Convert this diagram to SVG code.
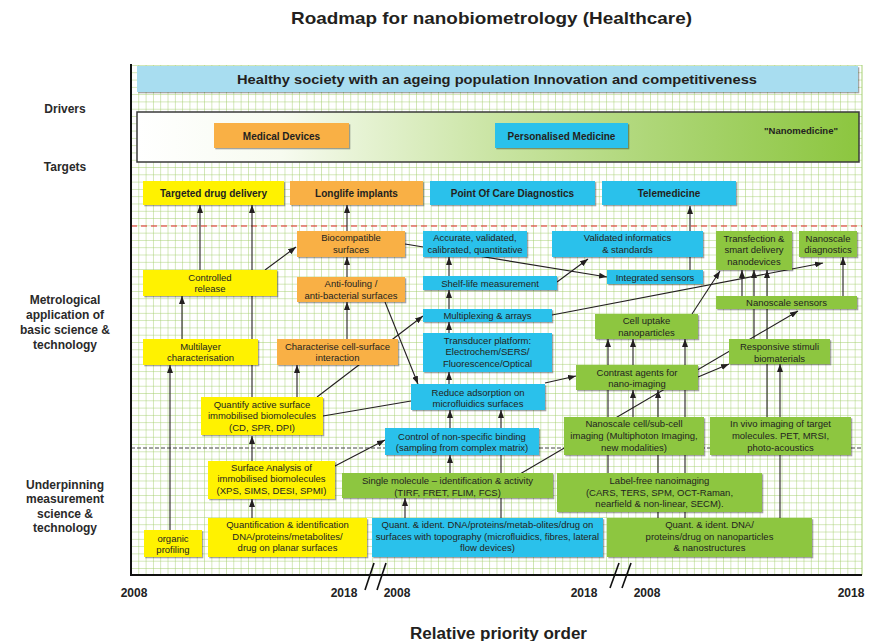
<svg xmlns="http://www.w3.org/2000/svg" width="872" height="641" viewBox="0 0 872 641">
<defs>
<style>
text{font-family:"Liberation Sans",Arial,sans-serif;fill:#231f20;text-anchor:middle}
.n text{font-size:9.5px}
.tg text{font-size:10px;font-weight:bold}
.lab{font-size:12px;font-weight:bold;fill:#2a2a2a}
.yr{font-size:12px;font-weight:bold;fill:#222}
.box{filter:url(#sh)}
.y{fill:#fff200}
.o{fill:#f9b044}
.c{fill:#29c1eb}
.g{fill:#8dc641}
#conn line,#conn path{stroke:#231f20;stroke-width:1.1;fill:none}
#conn .a{marker-end:url(#ah)}
</style>
<marker id="ah" viewBox="0 0 8 6" refX="8" refY="3" markerWidth="8" markerHeight="6" markerUnits="userSpaceOnUse" orient="auto">
<path d="M0,0 L8,3 L0,6 z" fill="#231f20"/>
</marker>
<pattern id="grid" x="131" y="65" width="7.31" height="7.29" patternUnits="userSpaceOnUse">
<path d="M0,0 V7.29 M0,0 H7.31" stroke="#9fcd68" stroke-width="0.9" fill="none"/>
</pattern>
<linearGradient id="drv" x1="0" y1="0" x2="1" y2="0">
<stop offset="0" stop-color="#ffffff"/>
<stop offset="0.2" stop-color="#f7fbf0"/>
<stop offset="0.5" stop-color="#c9e4a2"/>
<stop offset="0.8" stop-color="#a3d166"/>
<stop offset="1" stop-color="#8cc63f"/>
</linearGradient>
<filter id="sh" x="-10%" y="-20%" width="120%" height="150%">
<feDropShadow dx="1.3" dy="1.3" stdDeviation="0.6" flood-color="#000" flood-opacity="0.35"/>
</filter>
</defs>

<rect x="0" y="0" width="872" height="641" fill="#fff"/>
<text x="491.5" y="24" font-size="17" font-weight="bold" textLength="401" lengthAdjust="spacingAndGlyphs" fill="#222">Roadmap for nanobiometrology (Healthcare)</text>

<!-- grid background -->
<rect x="131" y="65" width="731" height="510" fill="url(#grid)"/>
<line x1="862" y1="65" x2="862" y2="575" stroke="#9fcd68" stroke-width="0.9"/>

<!-- row labels -->
<g id="row-labels">
<text class="lab" x="65" y="113">Drivers</text>
<text class="lab" x="65" y="171">Targets</text>
<text class="lab" x="65" y="304">Metrological</text>
<text class="lab" x="65" y="319">application of</text>
<text class="lab" x="65" y="334">basic science &amp;</text>
<text class="lab" x="65" y="349">technology</text>
<text class="lab" x="65" y="489">Underpinning</text>
<text class="lab" x="65" y="503">measurement</text>
<text class="lab" x="65" y="518">science &amp;</text>
<text class="lab" x="65" y="532">technology</text>
</g>

<!-- banner -->
<g id="banner">
<rect x="137" y="66" width="721" height="26" fill="#a8ddf0" filter="url(#sh)"/>
<text x="497" y="84" font-size="13.5" font-weight="bold" textLength="520" lengthAdjust="spacingAndGlyphs" fill="#222">Healthy society with an ageing population Innovation and competitiveness</text>
</g>

<!-- drivers -->
<g id="drivers">
<rect x="137" y="112" width="722" height="50" fill="url(#drv)" stroke="#3a3a3a" stroke-width="1.5"/>
<g id="n-medical-devices" class="tg"><rect class="box o" x="214" y="123" width="135" height="25"/><text x="281.5" y="139.5">Medical Devices</text></g>
<g id="n-personalised-medicine" class="tg"><rect class="box c" x="495" y="123" width="133" height="25"/><text x="561.5" y="139.5">Personalised Medicine</text></g>
<text x="801" y="133.5" font-size="9.5" font-weight="bold">"Nanomedicine"</text>
</g>

<!-- separators -->
<line x1="131" y1="226" x2="862" y2="226" stroke="#e3262b" stroke-width="1.1" stroke-dasharray="6,4"/>
<line x1="131" y1="448" x2="862" y2="448" stroke="#444" stroke-width="1" stroke-dasharray="4,2"/>

<!-- connectors -->
<g id="conn">
<line class="a" x1="200" y1="270" x2="200" y2="205"/>
<line class="a" x1="252" y1="397" x2="252" y2="205"/>
<line class="a" x1="265" y1="270" x2="296" y2="247"/>
<line class="a" x1="347" y1="231" x2="347" y2="205"/>
<line class="a" x1="347" y1="277" x2="347" y2="257"/>
<line class="a" x1="347" y1="339" x2="347" y2="302"/>
<line class="a" x1="182" y1="339" x2="182" y2="296"/>
<line class="a" x1="170" y1="530" x2="170" y2="365"/>
<line class="a" x1="297" y1="397" x2="297" y2="365"/>
<line class="a" x1="385" y1="302" x2="418" y2="384"/>
<line class="a" x1="317" y1="397" x2="423" y2="316"/>
<line x1="323" y1="416" x2="411" y2="401"/>
<line class="a" x1="405" y1="244" x2="607" y2="277"/>
<line class="a" x1="449" y1="276" x2="449" y2="257"/>
<line class="a" x1="449" y1="309" x2="449" y2="290"/>
<line class="a" x1="449" y1="333" x2="449" y2="322"/>
<line class="a" x1="449" y1="384" x2="449" y2="372"/>
<line class="a" x1="557" y1="282" x2="588" y2="259"/>
<line class="a" x1="690" y1="270" x2="690" y2="206"/>
<line class="a" x1="552" y1="315" x2="823" y2="263"/>
<line class="a" x1="692" y1="314" x2="720" y2="271"/>
<line class="a" x1="742" y1="296" x2="742" y2="270"/>
<line class="a" x1="754" y1="339" x2="754" y2="270"/>
<line class="a" x1="767" y1="417" x2="767" y2="270"/>
<line class="a" x1="843" y1="296" x2="843" y2="257"/>
<line class="a" x1="520" y1="474" x2="798" y2="311"/>
<line class="a" x1="698" y1="377" x2="729" y2="364"/>
<line class="a" x1="545" y1="383" x2="576" y2="376"/>
<line class="a" x1="608" y1="473" x2="608" y2="339"/>
<line class="a" x1="633" y1="365" x2="633" y2="339"/>
<line class="a" x1="633" y1="417" x2="633" y2="390"/>
<line class="a" x1="658" y1="518" x2="658" y2="390"/>
<line class="a" x1="685" y1="518" x2="685" y2="339"/>
<line class="a" x1="780" y1="518" x2="780" y2="364"/>
<line class="a" x1="501" y1="518" x2="501" y2="410"/>
<line class="a" x1="450" y1="428" x2="450" y2="410"/>
<line class="a" x1="450" y1="473" x2="450" y2="455"/>
<line class="a" x1="405" y1="518" x2="405" y2="498"/>
<line class="a" x1="335" y1="466" x2="385" y2="440"/>
<line class="a" x1="252" y1="518" x2="252" y2="499"/>
<line class="a" x1="252" y1="461" x2="252" y2="436"/>
</g>

<!-- targets -->
<g id="n-targeted-drug-delivery" class="tg"><rect class="box y" x="143" y="181" width="141" height="24"/><text x="213.5" y="196.6">Targeted drug delivery</text></g>
<g id="n-longlife-implants" class="tg"><rect class="box o" x="290" y="181" width="133" height="24"/><text x="356.5" y="196.6">Longlife implants</text></g>
<g id="n-point-of-care" class="tg"><rect class="box c" x="430" y="181" width="165" height="24"/><text x="512.5" y="196.6">Point Of Care Diagnostics</text></g>
<g id="n-telemedicine" class="tg"><rect class="box c" x="602" y="181" width="134" height="24"/><text x="669" y="196.6">Telemedicine</text></g>

<!-- metrological application -->
<g id="n-controlled-release" class="n"><rect class="box y" x="143" y="270" width="134" height="26"/><text x="210" y="280.5">Controlled</text><text x="210" y="291.5">release</text></g>
<g id="n-biocompatible" class="n"><rect class="box o" x="297" y="231" width="108" height="26"/><text x="351" y="241">Biocompatible</text><text x="351" y="252.5">surfaces</text></g>
<g id="n-antifouling" class="n"><rect class="box o" x="297" y="277" width="108" height="25"/><text x="351" y="287">Anti-fouling /</text><text x="351" y="298.5">anti-bacterial surfaces</text></g>
<g id="n-multilayer" class="n"><rect class="box y" x="143" y="339" width="115" height="26"/><text x="200.5" y="349.5">Multilayer</text><text x="200.5" y="361">characterisation</text></g>
<g id="n-characterise" class="n"><rect class="box o" x="277" y="339" width="121" height="26"/><text x="337.5" y="349.5">Characterise cell-surface</text><text x="337.5" y="361">interaction</text></g>
<g id="n-quantify-active" class="n"><rect class="box y" x="201" y="397" width="122" height="38"/><text x="262" y="407.5">Quantify active surface</text><text x="262" y="419">immobilised biomolecules</text><text x="262" y="430.5">(CD, SPR, DPI)</text></g>
<g id="n-accurate" class="n"><rect class="box c" x="423" y="231" width="104" height="26"/><text x="475" y="241">Accurate, validated,</text><text x="475" y="252.5">calibrated, quantitative</text></g>
<g id="n-validated-informatics" class="n"><rect class="box c" x="552" y="231" width="151" height="26"/><text x="627.5" y="241">Validated informatics</text><text x="627.5" y="252.5">&amp; standards</text></g>
<g id="n-integrated-sensors" class="n"><rect class="box c" x="607" y="270" width="96" height="14"/><text x="655" y="280.5">Integrated sensors</text></g>
<g id="n-shelf-life" class="n"><rect class="box c" x="423" y="276" width="134" height="14"/><text x="490" y="286.5">Shelf-life measurement</text></g>
<g id="n-transfection" class="n"><rect class="box g" x="716" y="231" width="76" height="39"/><text x="754" y="241.5">Transfection &amp;</text><text x="754" y="253">smart delivery</text><text x="754" y="264.5">nanodevices</text></g>
<g id="n-nanoscale-diagnostics" class="n"><rect class="box g" x="799" y="231" width="58" height="26"/><text x="828" y="241.5">Nanoscale</text><text x="828" y="253">diagnostics</text></g>
<g id="n-nanoscale-sensors" class="n"><rect class="box g" x="716" y="296" width="141" height="13"/><text x="786.5" y="306">Nanoscale sensors</text></g>
<g id="n-multiplexing" class="n"><rect class="box c" x="423" y="309" width="129" height="13"/><text x="487.5" y="319">Multiplexing &amp; arrays</text></g>
<g id="n-transducer" class="n"><rect class="box c" x="423" y="333" width="129" height="39"/><text x="487.5" y="343.5">Transducer platform:</text><text x="487.5" y="355">Electrochem/SERS/</text><text x="487.5" y="366.5">Fluorescence/Optical</text></g>
<g id="n-cell-uptake" class="n"><rect class="box g" x="595" y="314" width="103" height="25"/><text x="646.5" y="324">Cell uptake</text><text x="646.5" y="335.5">nanoparticles</text></g>
<g id="n-responsive" class="n"><rect class="box g" x="729" y="339" width="101" height="25"/><text x="779.5" y="350">Responsive stimuli</text><text x="779.5" y="361.5">biomaterials</text></g>
<g id="n-contrast" class="n"><rect class="box g" x="576" y="365" width="122" height="25"/><text x="637" y="375.5">Contrast agents for</text><text x="637" y="387">nano-imaging</text></g>
<g id="n-reduce-adsorption" class="n"><rect class="box c" x="411" y="384" width="134" height="26"/><text x="478" y="395.5">Reduce adsorption on</text><text x="478" y="407">microfluidics surfaces</text></g>
<g id="n-control-binding" class="n"><rect class="box c" x="385" y="428" width="154" height="27"/><text x="462" y="439.5">Control of non-specific binding</text><text x="462" y="451">(sampling from complex matrix)</text></g>
<g id="n-nanoscale-cell" class="n"><rect class="box g" x="564" y="417" width="140" height="38"/><text x="634" y="427">Nanoscale cell/sub-cell</text><text x="634" y="439">imaging (Multiphoton Imaging,</text><text x="634" y="450.5">new modalities)</text></g>
<g id="n-in-vivo" class="n"><rect class="box g" x="710" y="417" width="141" height="38"/><text x="780.5" y="427">In vivo imaging of target</text><text x="780.5" y="439">molecules. PET, MRSI,</text><text x="780.5" y="450.5">photo-acoustics</text></g>

<!-- underpinning -->
<g id="n-surface-analysis" class="n"><rect class="box y" x="208" y="461" width="127" height="38"/><text x="271.5" y="470.5">Surface Analysis of</text><text x="271.5" y="482">immobilised biomolecules</text><text x="271.5" y="493.5">(XPS, SIMS, DESI, SPMI)</text></g>
<g id="n-single-molecule" class="n"><rect class="box g" x="342" y="473" width="211" height="25"/><text x="447.5" y="484">Single molecule – identification &amp; activity</text><text x="447.5" y="495.5">(TIRF, FRET, FLIM, FCS)</text></g>
<g id="n-label-free" class="n"><rect class="box g" x="557" y="473" width="205" height="39"/><text x="659.5" y="484">Label-free nanoimaging</text><text x="659.5" y="495.5">(CARS, TERS, SPM, OCT-Raman,</text><text x="659.5" y="507">nearfield &amp; non-linear, SECM).</text></g>
<g id="n-organic-profiling" class="n"><rect class="box y" x="144" y="530" width="58" height="27"/><text x="173" y="542">organic</text><text x="173" y="553">profiling</text></g>
<g id="n-quantification-planar" class="n"><rect class="box y" x="208" y="518" width="159" height="39"/><text x="287.5" y="528">Quantification &amp; identification</text><text x="287.5" y="539.5">DNA/proteins/metabolites/</text><text x="287.5" y="551">drug on planar surfaces</text></g>
<g id="n-quant-topography" class="n"><rect class="box c" x="372" y="518" width="231" height="39"/><text x="487.5" y="528">Quant. &amp; ident. DNA/proteins/metab-olites/drug on</text><text x="487.5" y="539.5">surfaces with topography (microfluidics, fibres, lateral</text><text x="487.5" y="551">flow devices)</text></g>
<g id="n-quant-nanoparticles" class="n"><rect class="box g" x="607" y="518" width="205" height="39"/><text x="709.5" y="528">Quant. &amp; ident. DNA/</text><text x="709.5" y="539.5">proteins/drug on nanoparticles</text><text x="709.5" y="551">&amp; nanostructures</text></g>

<!-- axes -->
<g id="axes">
<line x1="131" y1="64" x2="131" y2="576" stroke="#111" stroke-width="2"/>
<line x1="130" y1="575" x2="862" y2="575" stroke="#111" stroke-width="2"/>
<line x1="365" y1="590" x2="374" y2="563" stroke="#111" stroke-width="1.6"/>
<line x1="377" y1="590" x2="386" y2="563" stroke="#111" stroke-width="1.6"/>
<line x1="610" y1="588" x2="619" y2="563" stroke="#111" stroke-width="1.6"/>
<line x1="622" y1="588" x2="631" y2="563" stroke="#111" stroke-width="1.6"/>
<text class="yr" x="134" y="597">2008</text>
<text class="yr" x="344" y="597">2018</text>
<text class="yr" x="397" y="597">2008</text>
<text class="yr" x="584" y="597">2018</text>
<text class="yr" x="647" y="597">2008</text>
<text class="yr" x="851" y="597">2018</text>
<text x="498.5" y="639" font-size="16" font-weight="bold" textLength="177" lengthAdjust="spacingAndGlyphs" fill="#222">Relative priority order</text>
</g>
</svg>
